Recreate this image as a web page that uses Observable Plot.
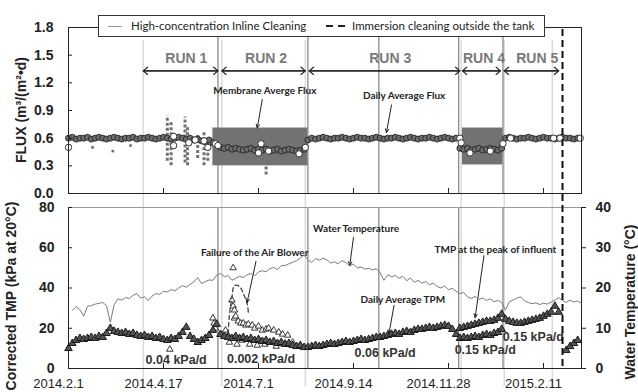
<!DOCTYPE html>
<html><head><meta charset="utf-8">
<script src="https://cdn.jsdelivr.net/npm/d3@7"></script>
<script src="https://cdn.jsdelivr.net/npm/@observablehq/plot@0.6"></script>
<style>
body{margin:0;background:#fff;}
#chart{position:relative;width:638px;height:392px;overflow:hidden;font-family:"Liberation Sans",Arial,sans-serif;}
#chart svg{position:absolute;left:0;top:0;}
#legend{position:absolute;left:98px;top:15px;width:445px;height:20px;border:1px solid #333;background:#fff;font-family:Lato,"Open Sans",sans-serif;font-size:11.5px;color:#222;z-index:5;}
#legend .t{position:absolute;top:0;line-height:20px;white-space:nowrap;}
#legend .s{position:absolute;top:10px;height:0;}
.ylab{position:absolute;transform:translate(-50%,-50%) rotate(-90deg);white-space:nowrap;font-size:14px;font-weight:bold;color:#222;z-index:6;line-height:16px;}
</style></head>
<body>
<div id="chart">
  <div id="legend">
    <span class="s" style="left:9px;width:14px;border-top:1px solid #999;"></span>
    <span class="t" style="left:32px;">High-concentration Inline Cleaning</span>
    <span class="s" style="left:227px;width:7px;border-top:2px solid #222;top:9px;"></span>
    <span class="s" style="left:239px;width:7px;border-top:2px solid #222;top:9px;"></span>
    <span class="t" style="left:253px;">Immersion cleaning outside the tank</span>
  </div>
  <div class="ylab" style="left:21px;top:110px;">FLUX (m³/(m²•d)</div>
  <div class="ylab" style="left:11px;top:296px;">Corrected TMP (kPa at 20°C)</div>
  <div class="ylab" style="left:630px;top:302px;">Water Temperature (°C)</div>
</div>
<script>
// ---------- data ----------
const xTickDates = ["2014-02-01","2014-04-17","2014-07-01","2014-09-14","2014-11-28","2015-02-11"];
const xTickLabels = ["2014.2.1","2014.4.17","2014.7.1","2014.9.14","2014.11.28","2015.2.11"];
const fluxTicks = [0,0.3,0.6,0.9,1.2,1.5,1.8];
const tmpTicks = [0,20,40,60,80];
const wtTicks = [0,10,20,30,40];

// Daily average flux (every 3 days from 2014-02-01)
const fluxStart = "2014-02-01";
const fluxValues = [
0.60,0.61,0.59,0.60,0.60,0.61,0.59,0.60,0.61,0.60,
0.59,0.60,0.61,0.60,0.59,0.60,0.60,0.61,0.59,0.60,
0.60,0.61,0.60,0.59,0.60,0.61,0.60,0.59,0.60,0.61,
0.60,0.59,0.60,0.58,0.59,0.57,0.56,0.58,0.55,0.53,
0.50,0.49,0.50,0.48,0.49,0.48,0.47,0.48,0.49,0.47,
0.48,0.47,0.48,0.46,0.47,0.48,0.46,0.47,0.48,0.47,
0.46,0.47,0.48,
0.58,0.60,0.59,0.60,0.61,0.60,0.59,0.60,0.60,0.61,
0.60,0.59,0.60,0.61,0.60,0.60,0.59,0.60,0.61,0.60,
0.59,0.60,0.60,0.61,0.60,0.59,0.60,0.61,0.60,0.59,
0.60,0.60,0.61,0.60,0.59,0.60,0.61,0.60,0.59,0.60,
0.49,0.48,0.49,0.47,0.48,0.49,0.47,0.48,0.49,0.48,0.47,0.49,
0.60,0.61,0.60,0.59,0.60,0.60,0.61,0.60,0.59,0.60,
0.61,0.60,0.60,0.59,0.60,0.61,0.60,0.60,0.59,0.60];

// open (white) flux circles
const whiteDates = ["2014-02-01","2014-04-25","2014-04-25","2014-05-07","2014-05-12","2014-05-19","2014-05-22","2014-05-28","2014-05-30","2014-07-01","2014-07-03","2014-07-09","2014-08-02","2014-08-07","2014-12-07","2014-12-08","2014-12-15","2014-12-31","2015-01-10","2015-01-16","2015-02-19","2015-02-24","2015-03-12"];
const whiteValues = [0.50,0.52,0.62,0.55,0.58,0.57,0.50,0.54,0.52,0.44,0.54,0.46,0.43,0.50,0.60,0.55,0.44,0.46,0.54,0.60,0.60,0.60,0.60];

// Membrane average flux: dense bands and scattered columns
const memBandStart = ["2014-05-26","2014-12-09"];
const memBandEnd = ["2014-08-09","2015-01-10"];
const memBandLow = [0.30,0.31];
const memBandHigh = [0.71,0.71];
const memColDates = ["2014-04-20","2014-04-23","2014-05-04","2014-05-06","2014-05-14","2014-05-19","2014-05-22","2014-07-07"];
const memColLow = [0.35,0.30,0.33,0.30,0.38,0.30,0.35,0.20];
const memColHigh = [0.84,0.78,0.83,0.72,0.65,0.68,0.62,0.30];
const memDotDates = ["2014-02-20","2014-03-08","2014-03-22"];
const memDotValues = [0.50,0.46,0.52];

// Daily average TMP (every 3 days from 2014-02-01)
const tmpStart = "2014-02-01";
const tmpValues = [
10,12.5,14,15,14.5,15,15.5,15,16,15.5,
17.5,20,18.5,18,17.5,18,17,17.5,16.5,16,
16.5,15.5,16,15,15.5,14.5,14,15,14.5,16,
18,20.5,16,14.5,13,14,15,16.5,19,22,
17,16,15.5,15,16,15,15.5,14.5,15,14,
14.5,13.5,14,13,13.5,12.5,13,12,12.5,11.5,
11,11.5,10.5,
10.5,11,11.5,11,11.5,12,12.5,12,12.5,13,
13.5,13,13.5,14,14.5,14,14.5,15,15.5,15.5,
16,16.5,17,17.5,17,18,18.5,18,19,19.5,
19.5,20,20.5,20,20.5,21,21.5,21,19.5,17,
15,15.5,15,15.5,16,15.5,16.5,17,16.5,17.5,18,19.5];
// TMP at the peak of influent (every 3 days from 2014-12-07)
const peakStart = "2014-12-07";
const peakValues = [20,20.5,21,21.5,22,22.5,23,23.5,23.5,24,25,27,24.5,23.5,23,22.5,22.5,23,23.5,24,24.5,25,26,27,28,31,28];
// TMP after immersion cleaning (every 3 days from 2015-03-01)
const postStart = "2015-03-01";
const postValues = [9,11,12.5,14];
// scattered TMP readings
const tmpScatterDates = ["2014-04-22","2014-05-26","2014-05-27","2014-05-28","2014-06-05","2014-06-07","2014-06-08","2014-06-10","2014-06-11","2014-06-11","2014-06-12","2014-06-12","2014-06-13","2014-06-14","2014-06-15","2014-06-17","2014-06-18","2014-06-19","2014-06-21","2014-06-23","2014-06-24","2014-06-26","2014-06-28","2014-06-30","2014-07-01","2014-07-04","2014-07-06","2014-07-07","2014-07-09","2014-07-13","2014-07-15","2014-07-17","2014-07-20","2014-07-22","2014-07-24","2014-07-28","2014-08-03"];
const tmpScatterValues = [9.5,25,22.5,20,19,16.5,13,34,50,31,29,25,26,12,23.5,22.5,14,22.5,21.5,22,12,21.5,20,11.5,21,19,12,19.5,20,19,11,18,17,12.5,16.5,13,11];

// Water temperature (every 3 days from 2014-02-04)
const wtStart = "2014-02-04";
const wtValues = [
14.4,15.4,14.6,13.0,15.5,15.6,16.0,16.2,16.4,15.6,
11.5,15.8,17.3,17.0,17.6,17.4,18.2,18.6,17.5,17.8,
16.9,18.0,18.6,18.4,19.2,19.0,19.6,19.3,20.0,20.6,
20.2,20.9,21.5,22.6,21.1,21.6,22.0,21.9,23.2,23.6,
22.8,23.1,21.9,22.4,22.9,22.6,23.3,23.6,23.0,24.0,
24.3,24.0,24.8,25.1,24.6,25.6,25.6,26.0,26.4,26.8,
27.4,28.2,27.0,26.3,27.3,26.9,27.4,27.0,26.2,26.5,
26.0,26.8,26.3,25.5,25.9,25.0,25.2,24.7,24.9,24.5,
24.8,23.8,21.9,23.3,22.8,23.1,22.4,22.9,21.8,22.5,
21.4,21.9,21.2,21.6,20.8,21.2,20.4,20.0,20.5,19.6,
19.9,19.2,18.6,18.9,17.8,17.4,17.9,17.2,17.5,16.9,
17.3,16.6,16.9,16.4,14.5,16.6,17.0,17.5,17.8,16.8,
16.4,16.1,16.3,15.9,16.2,16.0,16.5,17.0,17.6,16.9,
16.4,17.0,16.5,16.8,16.1];

// Event lines
const inlineCleaningDates = ["2014-04-01","2014-06-02","2014-08-07","2014-12-08","2015-01-11","2015-02-18"];
const runBoundaryDates = ["2014-05-30","2014-08-09","2014-10-04","2014-12-06","2015-01-10"];
const immersionDates = ["2015-02-26"];

// Runs
const runNames = ["RUN 1","RUN 2","RUN 3","RUN 4","RUN 5"];
const runStart = ["2014-04-01","2014-06-02","2014-08-10","2014-12-09","2015-01-11"];
const runEnd = ["2014-05-30","2014-08-07","2014-12-07","2015-01-08","2015-02-23"];
const runLabelDates = ["2014-05-05","2014-07-07","2014-10-13","2014-12-26","2015-02-06"];

// Annotations (data coordinates)
const fluxNotes = [
  {text:"Membrane Averge Flux", x:"2014-07-06", y:1.11, x1:"2014-07-04", y1:1.02, x2:"2014-06-30", y2:0.71},
  {text:"Daily Average Flux", x:"2014-10-24", y:1.056, x1:"2014-10-14", y1:0.96, x2:"2014-10-10", y2:0.66}
];
const tmpNotes = [
  {text:"Failure of the Air Blower", x:"2014-06-28", y:57.6, x1:"2014-06-29", y1:53.2, x2:"2014-06-22", y2:32.8},
  {text:"Water Temperature", x:"2014-09-16", y:69.6, x1:"2014-09-14", y1:65.1, x2:"2014-09-11", y2:51.2},
  {text:"TMP at the peak of influent", x:"2015-01-04", y:59.1, x1:"2014-12-26", y1:56.1, x2:"2014-12-19", y2:25.3},
  {text:"Daily Average TPM", x:"2014-10-23", y:34.3, x1:"2014-10-16", y1:31.3, x2:"2014-10-12", y2:17.4}
];
const rateNotes = [
  {text:"0.04 kPa/d", x:"2014-04-27", y:4.0},
  {text:"0.002 kPa/d", x:"2014-07-03", y:4.5},
  {text:"0.06 kPa/d", x:"2014-10-09", y:7.5},
  {text:"0.15 kPa/d", x:"2014-12-27", y:9.4},
  {text:"0.15 kPa/d", x:"2015-02-03", y:15.9}
];
const blowerArcDates = ["2014-06-07","2014-06-08","2014-06-10","2014-06-12","2014-06-16","2014-06-19","2014-06-22","2014-06-23"];
const blowerArcValues = [17.4,26.3,35.3,41.2,40.7,37.3,32.3,27.8];

// ---------- build ----------
const P = s => new Date(s + "T00:00:00Z");
const series = (start, step, vals) => vals.map((v, i) => ({date: d3.utcDay.offset(P(start), i * step), value: v}));
const pairs = (ds, vs) => ds.map((d, i) => ({date: P(d), value: vs[i]}));
const parseNote = n => ({...n, x: P(n.x), x1: n.x1 ? P(n.x1) : null, x2: n.x2 ? P(n.x2) : null});

const flux = series(fluxStart, 3, fluxValues);
const whiteFlux = pairs(whiteDates, whiteValues);
const memBands = memBandStart.map((d, i) => ({x1: P(d), x2: P(memBandEnd[i]), y1: memBandLow[i], y2: memBandHigh[i]}));
const memCols = memColDates.map((d, i) => ({date: P(d), lo: memColLow[i], hi: memColHigh[i]}));
const memDots = pairs(memDotDates, memDotValues);
const tmpAvg = series(tmpStart, 3, tmpValues);
const tmpPeak = series(peakStart, 3, peakValues);
const tmpPost = series(postStart, 3, postValues);
const tmpScatter = pairs(tmpScatterDates, tmpScatterValues);
const wt = series(wtStart, 3, wtValues);
const blowerArc = pairs(blowerArcDates, blowerArcValues);
const runs = runNames.map((n, i) => ({name: n, start: P(runStart[i]), end: P(runEnd[i]), label: P(runLabelDates[i])}));
const xTicks = xTickDates.map(P);
const xLabelMap = new Map(xTicks.map((d, i) => [+d, xTickLabels[i]]));

const W = 638, H = 392, ML = 68, MR = 57;
const X0 = P("2014-02-01"), X1 = P("2015-03-13");
const FONT = '"Liberation Sans", Arial, sans-serif';
const NOTE = 'Lato, "Open Sans", sans-serif';
const style = {background: "transparent", fontFamily: FONT, fontSize: "13px", color: "#222", overflow: "visible"};
const xOpt = {type: "utc", domain: [X0, X1], axis: null};
const chart = document.getElementById("chart");
const add = svg => chart.insertBefore(svg, document.getElementById("legend"));

const TOP_T = 27, TOP_B = 193, BOT_T = 207, BOT_B = 368;

// background: inline-cleaning lines
add(Plot.plot({
  width: W, height: H, marginLeft: ML, marginRight: MR, marginTop: 40, marginBottom: 6, style,
  x: xOpt, y: {axis: null, domain: [0, 1]},
  marks: [Plot.ruleX(inlineCleaningDates.map(P), {stroke: "#dcdcdc", strokeWidth: 1.6})]
}));

// top panel: flux
const noteArrow = {stroke: "#222", strokeWidth: 1, headLength: 6, headAngle: 50};
add(Plot.plot({
  width: W, height: H, marginLeft: ML, marginRight: MR, marginTop: TOP_T, marginBottom: H - TOP_B, style,
  x: xOpt, y: {domain: [0, 1.8], axis: null},
  marks: [
    Plot.ruleX(runBoundaryDates.map(P), {stroke: "#8a8a8a", strokeWidth: 1.3}),
    Plot.rect(memBands, {x1: "x1", x2: "x2", y1: "y1", y2: "y2", fill: "#727272"}),
    Plot.ruleX(memCols, {x: "date", y1: "lo", y2: "hi", stroke: "#727272", strokeWidth: 3, strokeDasharray: "3,2"}),
    Plot.dot(memDots, {x: "date", y: "value", symbol: "square", r: 1.5, fill: "#727272"}),
    Plot.dot(flux, {x: "date", y: "value", r: 3, fill: "#6e6e6e", stroke: "#222", strokeWidth: 0.9}),
    Plot.dot(whiteFlux, {x: "date", y: "value", r: 3.2, fill: "white", stroke: "#333", strokeWidth: 1}),
    Plot.frame({stroke: "#222"}),
    Plot.axisY({ticks: fluxTicks, tickFormat: d3.format(".1f"), tickSize: 0, tickPadding: 15, fontSize: 14, fontWeight: "bold", label: null}),
    Plot.axisY({ticks: fluxTicks, tickFormat: () => "", tickSize: 4, dx: 4, label: null}),
    Plot.axisX({ticks: xTicks, tickFormat: () => "", tickSize: 5, dy: -5, label: null}),
    Plot.arrow(runs, {x1: "start", x2: "end", y1: 1.33, y2: 1.33, stroke: "#222", strokeWidth: 1.2, headLength: 7, headAngle: 80}),
    Plot.arrow(runs, {x1: "end", x2: "start", y1: 1.33, y2: 1.33, stroke: "#222", strokeWidth: 1.2, headLength: 7, headAngle: 80}),
    Plot.text(runs, {x: "label", y: 1.466, text: "name", fill: "#7a7a7a", fontSize: 14, fontWeight: "bold"}),
    Plot.text(fluxNotes.map(parseNote), {x: "x", y: "y", text: "text", fontFamily: NOTE, fontSize: 10, fontWeight: "bold", fill: "#222"}),
    Plot.arrow(fluxNotes.map(parseNote), {x1: "x1", y1: "y1", x2: "x2", y2: "y2", ...noteArrow})
  ]
}));

// bottom panel: TMP
add(Plot.plot({
  width: W, height: H, marginLeft: ML, marginRight: MR, marginTop: BOT_T, marginBottom: H - BOT_B, style,
  x: xOpt, y: {domain: [0, 80], axis: null},
  marks: [
    Plot.ruleX(runBoundaryDates.map(P), {stroke: "#8a8a8a", strokeWidth: 1.3}),
    Plot.frame({stroke: "#222"}),
    Plot.ruleY([80], {stroke: "#9a9a9a", strokeWidth: 1.2}),
    Plot.dot(tmpScatter, {x: "date", y: "value", symbol: "triangle", r: 2.4, fill: "white", stroke: "#222", strokeWidth: 0.9}),
    Plot.dot(tmpAvg, {x: "date", y: "value", symbol: "triangle", r: 2.8, fill: "#555", stroke: "#1a1a1a", strokeWidth: 1}),
    Plot.dot(tmpPeak, {x: "date", y: "value", symbol: "triangle", r: 2.8, fill: "#555", stroke: "#1a1a1a", strokeWidth: 1}),
    Plot.dot(tmpPost, {x: "date", y: "value", symbol: "triangle", r: 2.8, fill: "#555", stroke: "#1a1a1a", strokeWidth: 1}),
    Plot.line(blowerArc, {x: "date", y: "value", curve: "catmull-rom", stroke: "#444", strokeWidth: 1.3, strokeDasharray: "4,3"}),
    Plot.axisY({ticks: tmpTicks, tickSize: 0, tickPadding: 14, fontSize: 14, fontWeight: "bold", label: null}),
    Plot.axisY({ticks: tmpTicks, tickFormat: () => "", tickSize: 4, dx: 4, label: null}),
    Plot.axisX({ticks: xTicks, tickFormat: () => "", tickSize: 5, dy: -5, label: null}),
    Plot.axisX({ticks: xTicks, tickFormat: d => xLabelMap.get(+d), tickSize: 0, tickPadding: 10, dx: -10, fontSize: 13, label: null}),
    Plot.text(tmpNotes.map(parseNote), {x: "x", y: "y", text: "text", fontFamily: NOTE, fontSize: 10, fontWeight: "bold", fill: "#222"}),
    Plot.arrow(tmpNotes.map(parseNote), {x1: "x1", y1: "y1", x2: "x2", y2: "y2", ...noteArrow}),
    Plot.text(rateNotes.map(parseNote), {x: "x", y: "y", text: "text", fontSize: 12.5, fontWeight: "bold", fill: "#333"})
  ]
}));

// bottom panel: water temperature (right axis)
add(Plot.plot({
  width: W, height: H, marginLeft: ML, marginRight: MR, marginTop: BOT_T, marginBottom: H - BOT_B, style,
  x: xOpt, y: {domain: [0, 40], axis: null},
  marks: [
    Plot.line(wt, {x: "date", y: "value", stroke: "#7a7a7a", strokeWidth: 1}),
    Plot.axisY({anchor: "right", ticks: wtTicks, tickSize: 4, tickPadding: 10, fontSize: 14, fontWeight: "bold", label: null})
  ]
}));

// immersion cleaning (dashed) across both panels
add(Plot.plot({
  width: W, height: H, marginLeft: ML, marginRight: MR, marginTop: TOP_T + 2, marginBottom: H - BOT_B, style,
  x: xOpt, y: {axis: null, domain: [0, 1]},
  marks: [Plot.ruleX(immersionDates.map(P), {stroke: "#111", strokeWidth: 2, strokeDasharray: "7,4"})]
}));
</script>
</body></html>
